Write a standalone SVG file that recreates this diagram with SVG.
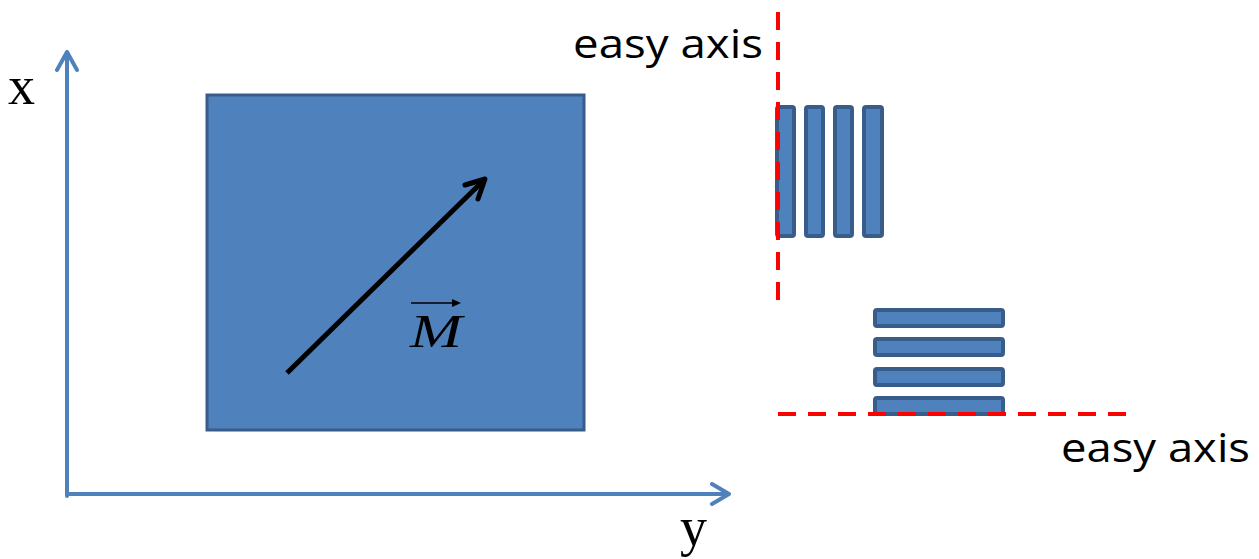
<svg xmlns="http://www.w3.org/2000/svg" width="1259" height="559" viewBox="0 0 1259 559">
<style>
.ax{stroke:#4f81bd;stroke-width:4;fill:none;stroke-linecap:round;stroke-linejoin:round}
.bar{fill:#4f81bd;stroke:#385d8a;stroke-width:4}
.ez{stroke:#ff0000;stroke-width:4;stroke-dasharray:18 12;fill:none}
.serif{font-family:"Liberation Serif","Times New Roman",serif;fill:#000}
.sans{font-family:"Open Sans","Noto Sans","Liberation Sans",sans-serif;font-size:40px;fill:#000}
</style>
<rect width="1259" height="559" fill="#fff"/>
<g id="square">
<rect x="207" y="95" width="377" height="335" fill="#4f81bd" stroke="#385d8a" stroke-width="3"/>
</g>
<g id="connectors">
<path class="ax" d="M67,496 V52 M57,70 L67,52 L77,70"/>
<path class="ax" d="M67,494 H728 M712,484 L729,494 L712,504"/>
<path d="M287,373 L483,181" stroke="#000" stroke-width="5" fill="none"/>
<path d="M465,185 L485,179 L478,199" stroke="#000" stroke-width="5" fill="none" stroke-linecap="round" stroke-linejoin="round"/>
</g>
<g id="labels">
<text class="serif" x="8" y="104" font-size="54">x</text>
<text class="serif" x="680" y="545" font-size="54">y</text>
<text class="serif" x="410" y="347" font-size="47" font-style="italic" textLength="52" lengthAdjust="spacingAndGlyphs">M</text>
<path d="M411,303 H456" stroke="#000" stroke-width="1.5"/>
<path d="M452,299 L461,303 L452,307 Z" fill="#000"/>
</g>
<g id="vertical-bars">
<rect class="bar" x="777" y="107" width="17" height="129" rx="2"/>
<rect class="bar" x="806" y="107" width="17" height="129" rx="2"/>
<rect class="bar" x="835" y="107" width="17" height="129" rx="2"/>
<rect class="bar" x="864" y="107" width="18" height="129" rx="2"/>
</g>
<g id="horizontal-bars">
<rect class="bar" x="875" y="310" width="128" height="16" rx="2"/>
<rect class="bar" x="875" y="339" width="128" height="16" rx="2"/>
<rect class="bar" x="875" y="369" width="128" height="16" rx="2"/>
<rect class="bar" x="875" y="398" width="128" height="16" rx="2"/>
</g>
<g id="easy-axes">
<path class="ez" d="M778,12 V308"/>
<path class="ez" d="M778,414 H1128"/>
<text class="sans" x="573" y="58" textLength="190" lengthAdjust="spacingAndGlyphs">easy axis</text>
<text class="sans" x="1061" y="462" textLength="189" lengthAdjust="spacingAndGlyphs">easy axis</text>
</g>
</svg>
